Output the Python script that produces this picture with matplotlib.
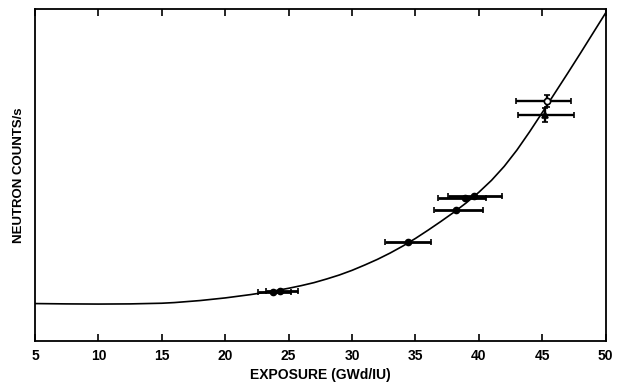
import numpy as np
import matplotlib
matplotlib.use("Agg")
from matplotlib import pyplot as plt

matplotlib.rcParams['font.family'] = 'Liberation Sans'
matplotlib.rcParams['font.weight'] = 'bold'
matplotlib.rcParams['font.size'] = 9

# fitted curve
curve_x = [5, 7.5, 10, 12.5, 15, 16, 17, 18, 19, 20, 21, 22, 23, 24, 25, 26, 27, 28, 29,
           30, 31, 32, 33, 34, 35, 36, 37, 38, 39, 40, 41, 42, 43, 44, 45, 46, 47, 48, 49, 50]
curve_y = [11.3, 11.2, 11.15, 11.2, 11.4, 11.6, 11.9, 12.2, 12.6, 13.0, 13.5, 14.0, 14.6, 15.2,
           15.9, 16.7, 17.6, 18.7, 19.9, 21.3, 22.9, 24.6, 26.5, 28.6, 30.9, 33.4, 36.0, 38.7,
           41.6, 44.8, 48.4, 52.6, 57.5, 63.0, 68.8, 74.7, 80.6, 86.6, 92.7, 98.8]

# measured points: exposure, counts, exposure range
pt_x = [23.8, 24.3, 34.4, 38.2, 38.9, 39.6]
pt_y = [14.9, 15.1, 29.9, 39.5, 43.0, 43.7]
pt_lo = [22.6, 23.2, 32.6, 36.5, 36.8, 37.6]
pt_hi = [25.2, 25.7, 36.2, 40.3, 40.6, 41.8]

# the two points at 45 with counting error too
hi_x = [45.4, 45.2]
hi_y = [72.2, 68.0]
hi_lo = [42.95, 43.05]
hi_hi = [47.3, 47.5]
hi_yerr = [1.8, 2.2]
hi_marker = ['o', '^']
hi_face = ['white', 'black']

fig = plt.figure(figsize=(6.19, 3.85), dpi=100)
ax = fig.add_axes([0.0565, 0.114, 0.922, 0.863])

ax.plot(curve_x, curve_y, color='black', lw=1.2, zorder=3)

for x, y, lo, hi in zip(pt_x, pt_y, pt_lo, pt_hi):
    ax.errorbar(x, y, xerr=[[x - lo], [hi - x]], fmt='o', ms=4.5, color='black',
                elinewidth=2, capsize=2, capthick=1.2, zorder=4)

for i in range(len(hi_x)):
    x = hi_x[i]
    ax.errorbar(x, hi_y[i], xerr=[[x - hi_lo[i]], [hi_hi[i] - x]], yerr=hi_yerr[i],
                fmt=hi_marker[i], ms=4.5, mfc=hi_face[i], mec='black', mew=1.2,
                color='black', elinewidth=1.7, capsize=2, capthick=1.2, zorder=4)

ax.set_xlim(5, 50)
ax.set_ylim(0, 100)
ax.set_xticks(np.arange(5, 51, 5))
ax.set_yticks([])
ax.tick_params(axis='x', direction='in', top=True, length=5, width=1.2, pad=6, labelsize=10)
for s in ax.spines.values():
    s.set_linewidth(1.3)

ax.set_xlabel('EXPOSURE (GWd/IU)', fontweight='bold', fontsize=10, labelpad=3)
ax.set_ylabel('NEUTRON COUNTS/s', fontweight='bold', fontsize=9.5, labelpad=7)

fig.savefig('out.png', dpi=100)
